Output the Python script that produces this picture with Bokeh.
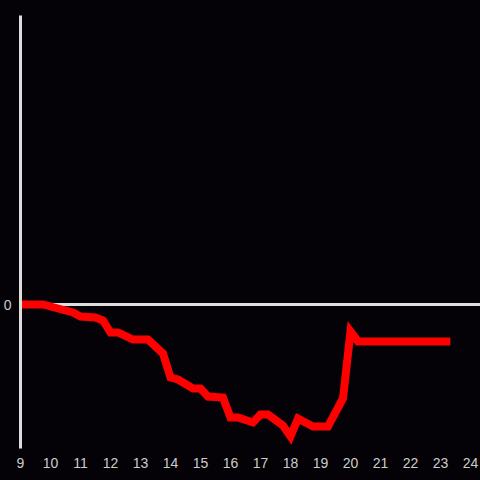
from bokeh.plotting import figure
from bokeh.models import Range1d, FixedTicker, Span, GlobalInlineStyleSheet
from bokeh.embed import file_html
from bokeh.resources import INLINE

# Data (hour of day, value)
hours = [9.0, 9.75, 10.25, 10.75, 11.0, 11.5, 11.75, 12.0, 12.25, 12.75, 13.25,
         13.75, 14.0, 14.25, 14.75, 15.0, 15.25, 15.75, 16.0, 16.25, 16.75, 17.0,
         17.25, 17.75, 18.0, 18.25, 18.75, 19.25, 19.75, 20.0, 20.25, 23.33]
values = [0.0, 0.0, -0.4, -0.8, -1.2, -1.3, -1.6, -2.8, -2.8, -3.5, -3.5,
          -4.9, -7.3, -7.5, -8.4, -8.4, -9.2, -9.3, -11.3, -11.3, -11.8, -11.0,
          -11.0, -12.1, -13.2, -11.4, -12.2, -12.2, -9.4, -2.7, -3.7, -3.7]
x_ticks = list(range(9, 25))
y_ticks = [0]

BG = "#040206"
AXIS = "#dddddd"
LABEL = "#cccccc"
FONT = "Liberation Sans"

p = figure(frame_width=460, frame_height=433,
           x_range=Range1d(9, 9 + 460 / 30), y_range=Range1d(-14.4, 28.9),
           output_backend="svg", toolbar_location=None,
           background_fill_color=BG, border_fill_color=BG,
           min_border_left=12, min_border_right=0, min_border_top=15,
           min_border_bottom=16)
p.outline_line_color = None
p.grid.visible = False
p.stylesheets = [GlobalInlineStyleSheet(css="html, body { background: %s; }" % BG)]

zero = Span(location=0, dimension="width", line_color=AXIS, line_width=3,
            level="underlay")
p.add_layout(zero)

p.line(hours, values, line_color="#ff0000", line_width=8, line_join="miter")

xa = p.xaxis[0]
xa.ticker = FixedTicker(ticks=x_ticks)
xa.axis_line_color = None
xa.major_tick_line_color = None
xa.minor_tick_line_color = None
xa.major_label_text_color = LABEL
xa.major_label_text_font = FONT
xa.major_label_text_font_size = "14px"
xa.major_label_standoff = 3

ya = p.yaxis[0]
ya.ticker = FixedTicker(ticks=y_ticks)
ya.axis_line_color = AXIS
ya.axis_line_width = 3
ya.major_tick_line_color = None
ya.minor_tick_line_color = None
ya.major_label_text_color = LABEL
ya.major_label_text_font = FONT
ya.major_label_text_font_size = "14px"
ya.major_label_standoff = 3

open("out.html", "w").write(file_html(p, INLINE))
